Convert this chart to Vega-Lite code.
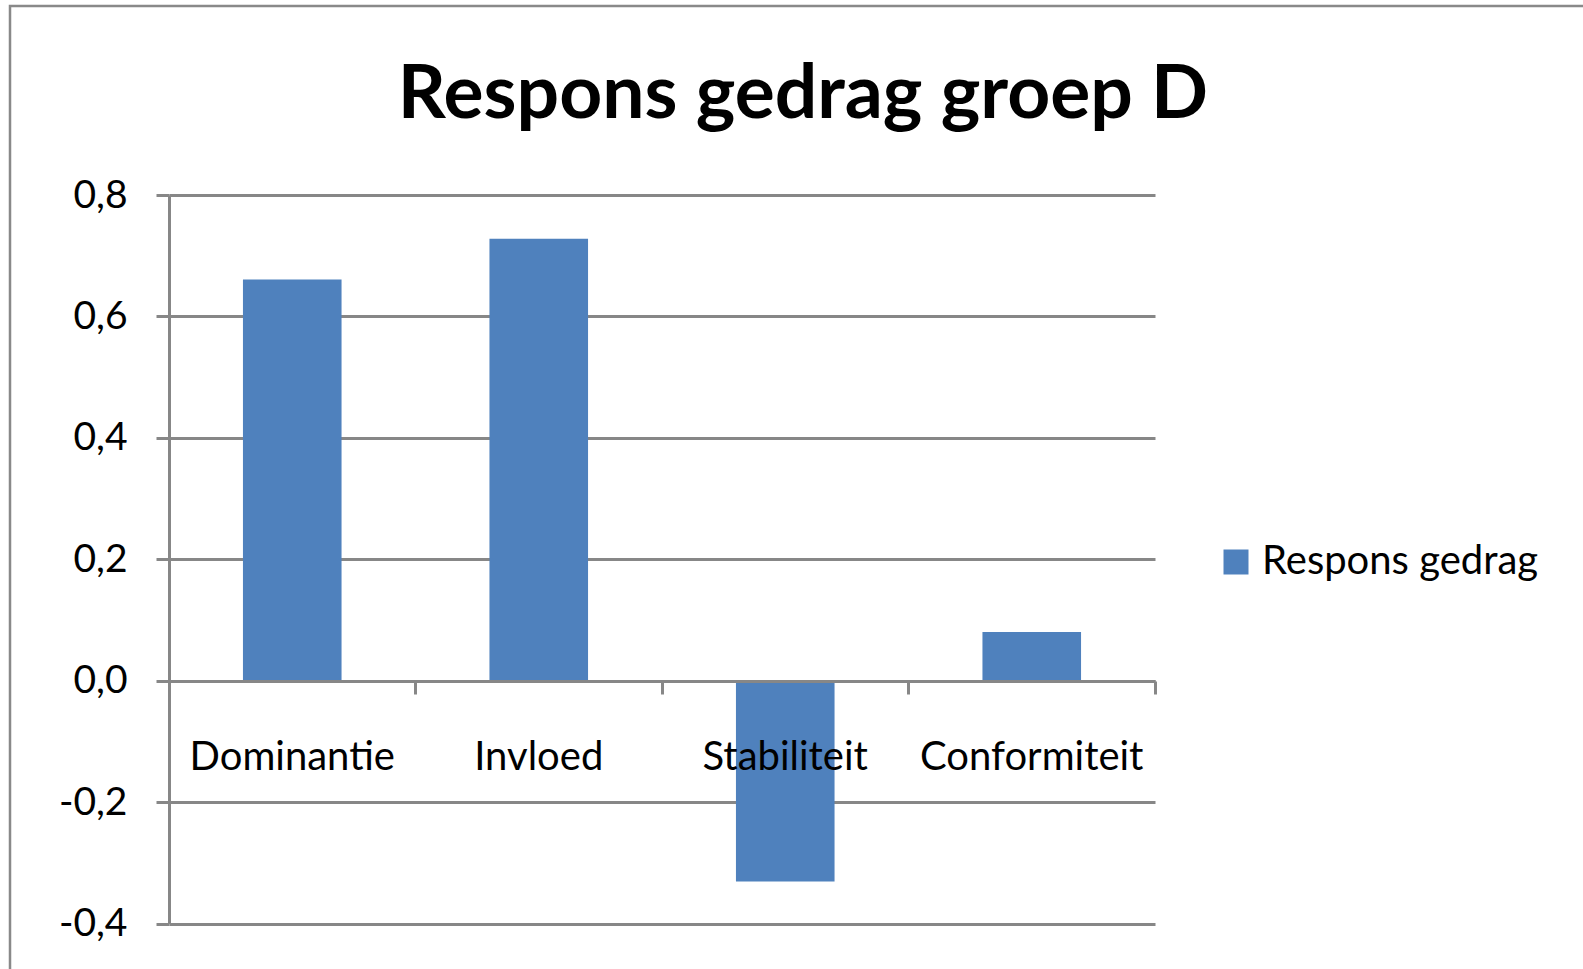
{
  "$schema": "https://vega.github.io/schema/vega-lite/v6.json",
  "width": 1576,
  "height": 966,
  "autosize": {"type": "none"},
  "padding": {"left": 10, "top": 6, "right": -3, "bottom": -3},
  "background": "white",
  "config": {
    "view": {"stroke": "#898989", "strokeWidth": 2.5},
    "font": "Lato"
  },
  "title": {
    "text": "Respons gedrag groep D",
    "font": "Lato",
    "fontSize": 75,
    "fontWeight": "bold",
    "color": "#000000",
    "anchor": "middle",
    "baseline": "alphabetic",
    "offset": 0,
    "dy": 187,
    "dx": 5
  },
  "data": {
    "values": [
      {"categorie": "Dominantie", "waarde": 0.661, "reeks": "Respons gedrag"},
      {"categorie": "Invloed", "waarde": 0.728, "reeks": "Respons gedrag"},
      {"categorie": "Stabiliteit", "waarde": -0.331, "reeks": "Respons gedrag"},
      {"categorie": "Conformiteit", "waarde": 0.08, "reeks": "Respons gedrag"}
    ]
  },
  "mark": {"type": "bar", "color": "#4F81BD"},
  "encoding": {
    "x": {
      "field": "categorie",
      "type": "nominal",
      "sort": null,
      "scale": {"range": [159, 1145], "paddingInner": 0.6, "paddingOuter": 0.3},
      "axis": {
        "title": null,
        "orient": "bottom",
        "offset": -291,
        "zindex": 1,
        "labelAngle": 0,
        "labelFont": "Lato",
        "labelFontSize": 40,
        "labelColor": "#000000",
        "labelBaseline": "alphabetic",
        "labelPadding": 75,
        "labelLimit": 400,
        "bandPosition": 1.75,
        "tickSize": 13,
        "tickWidth": 3,
        "tickColor": "#878787",
        "domainColor": "#878787",
        "domainWidth": 3,
        "grid": false
      }
    },
    "y": {
      "field": "waarde",
      "type": "quantitative",
      "scale": {"domain": [-0.4, 0.8], "range": [917.5, 189], "nice": false, "zero": false},
      "axis": {
        "title": null,
        "orient": "left",
        "offset": -159,
        "values": [-0.4, -0.2, 0, 0.2, 0.4, 0.6, 0.8],
        "labelExpr": "(datum.value < 0 ? '-' : '') + replace(format(abs(datum.value), '.1f'), '.', ',')",
        "labelFont": "Lato",
        "labelFontSize": 39,
        "labelColor": "#000000",
        "labelPadding": 29,
        "tickSize": 13,
        "tickWidth": 3,
        "tickColor": "#878787",
        "domainColor": "#878787",
        "domainWidth": 3,
        "grid": true,
        "gridColor": "#878787",
        "gridWidth": 3
      }
    },
    "color": {
      "field": "reeks",
      "type": "nominal",
      "scale": {"range": ["#4F81BD"]},
      "legend": {
        "title": null,
        "orient": "none",
        "legendX": 1206,
        "legendY": 536,
        "padding": 0,
        "symbolType": "square",
        "symbolSize": 625,
        "symbolStrokeWidth": 0,
        "symbolOpacity": 1,
        "labelFont": "Lato",
        "labelFontSize": 40,
        "labelColor": "#000000",
        "labelOffset": 6,
        "labelLimit": 400
      }
    }
  }
}
